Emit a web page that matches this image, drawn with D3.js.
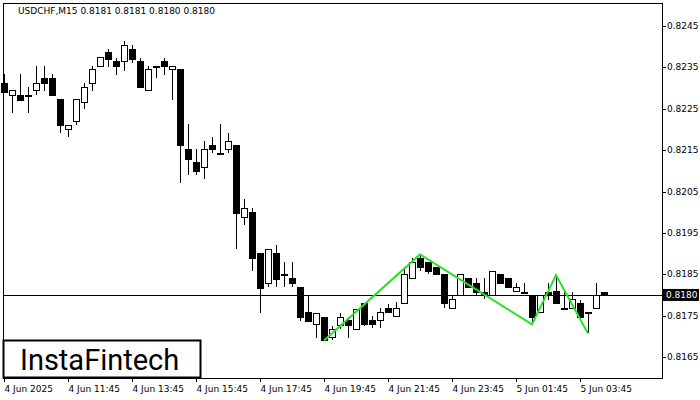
<!DOCTYPE html>
<html><head><meta charset="utf-8">
<script src="https://cdn.jsdelivr.net/npm/d3@7"></script>
<style>body{margin:0;background:#fff}svg{display:block;font-family:"DejaVu Sans",sans-serif}</style>
</head><body><svg id="c" width="700" height="400"></svg>
<script>
// OHLC candles, M15
var opens = [.82312,.82283,.82283,.82283,.82293,.82324,.82324,.82273,.82201,.82220,.82264,.82312,.82353,.82385,.82363,.82363,.82394,.82363,.82293,.82353,.82363,.82344,.82344,.82152,.82121,.82109,.82162,.82143,.82152,.82162,.81988,.82000,.81901,.81828,.81901,.81850,.81840,.81818,.81758,.81729,.81746,.81697,.81726,.81738,.81717,.81780,.81738,.81738,.81768,.81748,.81780,.81840,.81889,.81879,.81867,.81850,.81768,.81799,.81840,.81828,.81806,.81799,.81850,.81840,.81809,.81806,.81799,.81758,.81806,.81809,.81768,.81768,.81780,.81758,.81768,.81806];
var highs = [.82334,.82293,.82334,.82302,.82353,.82353,.82334,.82273,.82210,.82273,.82312,.82353,.82373,.82394,.82373,.82414,.82404,.82373,.82353,.82353,.82373,.82353,.82344,.82213,.82152,.82172,.82181,.82213,.82191,.82162,.82031,.82010,.81901,.81910,.81920,.81879,.81879,.81818,.81799,.81756,.81746,.81726,.81756,.81746,.81765,.81780,.81748,.81768,.81777,.81782,.81867,.81889,.81896,.81879,.81867,.81850,.81799,.81850,.81840,.81840,.81840,.81857,.81850,.81840,.81828,.81828,.81799,.81799,.81828,.81843,.81806,.81806,.81787,.81758,.81828,.81806];
var lows = [.82290,.82239,.82271,.82239,.82283,.82293,.82283,.82191,.82181,.82210,.82249,.82293,.82353,.82351,.82331,.82341,.82360,.82302,.82293,.82324,.82331,.82271,.82070,.82089,.82089,.82080,.82143,.82143,.82143,.81910,.81968,.81857,.81756,.81818,.81818,.81818,.81818,.81738,.81736,.81697,.81690,.81690,.81717,.81697,.81717,.81726,.81719,.81719,.81758,.81748,.81780,.81840,.81857,.81850,.81850,.81768,.81768,.81799,.81816,.81799,.81789,.81799,.81828,.81818,.81809,.81806,.81731,.81758,.81787,.81780,.81768,.81768,.81746,.81707,.81768,.81799];
var closes = [.82290,.82293,.82271,.82283,.82312,.82312,.82283,.82210,.82210,.82273,.82302,.82344,.82373,.82370,.82351,.82404,.82370,.82302,.82344,.82353,.82351,.82353,.82160,.82128,.82099,.82152,.82152,.82143,.82172,.81997,.82010,.81889,.81816,.81910,.81838,.81850,.81828,.81746,.81736,.81756,.81690,.81717,.81746,.81726,.81765,.81729,.81729,.81758,.81758,.81768,.81850,.81879,.81867,.81857,.81850,.81780,.81789,.81850,.81818,.81806,.81799,.81857,.81828,.81818,.81818,.81806,.81746,.81799,.81799,.81780,.81768,.81789,.81746,.81758,.81799,.81799];
var priceTicks = [0.8165,0.8175,0.8185,0.8195,0.8205,0.8215,0.8225,0.8235,0.8245];
var timeIdx = [0,8,16,24,32,40,48,56,64,72];
var timeLabels = ["4 Jun 2025","4 Jun 11:45","4 Jun 13:45","4 Jun 15:45","4 Jun 17:45","4 Jun 19:45","4 Jun 21:45","4 Jun 23:45","5 Jun 01:45","5 Jun 03:45"];
// triple bottom pattern line: [candle index, price]
var patternPts = [[40,.81690],[52,.81898],[66,.81729],[69,.81848],[73,.81707]];
var lastPrice = 0.8180;

var svg = d3.select("#c");
var plotL = 3, plotR = 662, plotT = 3, plotB = 378;
var x = d3.scaleLinear().domain([0, 75]).range([4, 604]);
var y = d3.scaleLinear().domain([0.8165, 0.8245]).range([357, 26]);

svg.append("rect").attr("x", plotL).attr("y", plotT).attr("width", plotR - plotL).attr("height", plotB - plotT)
    .attr("fill", "#fff").attr("stroke", "#000").attr("stroke-width", 1).attr("shape-rendering", "crispEdges");

// last price line
svg.append("line").attr("x1", plotL).attr("x2", plotR).attr("y1", Math.round(y(lastPrice)) + 0.5).attr("y2", Math.round(y(lastPrice)) + 0.5)
    .attr("stroke", "#000").attr("stroke-width", 1);

var g = svg.append("g").attr("shape-rendering", "crispEdges");
var data = opens.map(function(o, i) { return {i: i, o: o, h: highs[i], l: lows[i], c: closes[i]}; });
g.selectAll(".wick").data(data).enter().append("line")
    .attr("x1", function(d) { return Math.round(x(d.i)) + 0.5; })
    .attr("x2", function(d) { return Math.round(x(d.i)) + 0.5; })
    .attr("y1", function(d) { return y(d.h); }).attr("y2", function(d) { return y(d.l); })
    .attr("stroke", "#000");
g.selectAll(".body").data(data).enter().append("rect")
    .attr("x", function(d) { return Math.round(x(d.i)) - 3 + 0.5; })
    .attr("width", 6)
    .attr("y", function(d) { return y(Math.max(d.o, d.c)); })
    .attr("height", function(d) { return Math.max(1, Math.abs(y(d.o) - y(d.c))); })
    .attr("fill", function(d) { return d.c < d.o ? "#000" : "#fff"; })
    .attr("stroke", "#000");

// pattern
svg.append("path").datum(patternPts)
    .attr("d", d3.line().x(function(d) { return x(d[0]); }).y(function(d) { return y(d[1]); }))
    .attr("fill", "none").attr("stroke", "#22e522").attr("stroke-width", 2);

// price axis
priceTicks.forEach(function(p) {
    svg.append("line").attr("x1", plotR).attr("x2", plotR + 4).attr("y1", Math.round(y(p)) + 0.5).attr("y2", Math.round(y(p)) + 0.5).attr("stroke", "#000");
    svg.append("text").attr("x", 667).attr("y", y(p) + 3).attr("font-size", 9).text(p.toFixed(4));
});
svg.append("rect").attr("x", plotR + 1).attr("y", y(lastPrice) - 6).attr("width", 36).attr("height", 12).attr("fill", "#000");
svg.append("text").attr("x", 666).attr("y", y(lastPrice) + 3).attr("font-size", 9).attr("fill", "#fff").text(lastPrice.toFixed(4));

// time axis
timeIdx.forEach(function(t, k) {
    var tx = Math.round(x(t)) + 0.5;
    svg.append("line").attr("x1", tx).attr("x2", tx).attr("y1", plotB).attr("y2", plotB + 4).attr("stroke", "#000");
    svg.append("text").attr("x", tx).attr("y", 392).attr("font-size", 9).text(timeLabels[k]);
});

svg.append("text").attr("x", 18).attr("y", 14).attr("font-size", 9).text("USDCHF,M15  0.8181 0.8181 0.8180 0.8180");

// logo
svg.append("rect").attr("x", 3.5).attr("y", 340.5).attr("width", 197).attr("height", 37).attr("fill", "#fff").attr("stroke", "#000").attr("stroke-width", 2);
svg.append("text").attr("x", 20).attr("y", 370).attr("font-size", 29).attr("font-family", "Roboto, sans-serif").text("InstaFintech");
</script></body></html>
